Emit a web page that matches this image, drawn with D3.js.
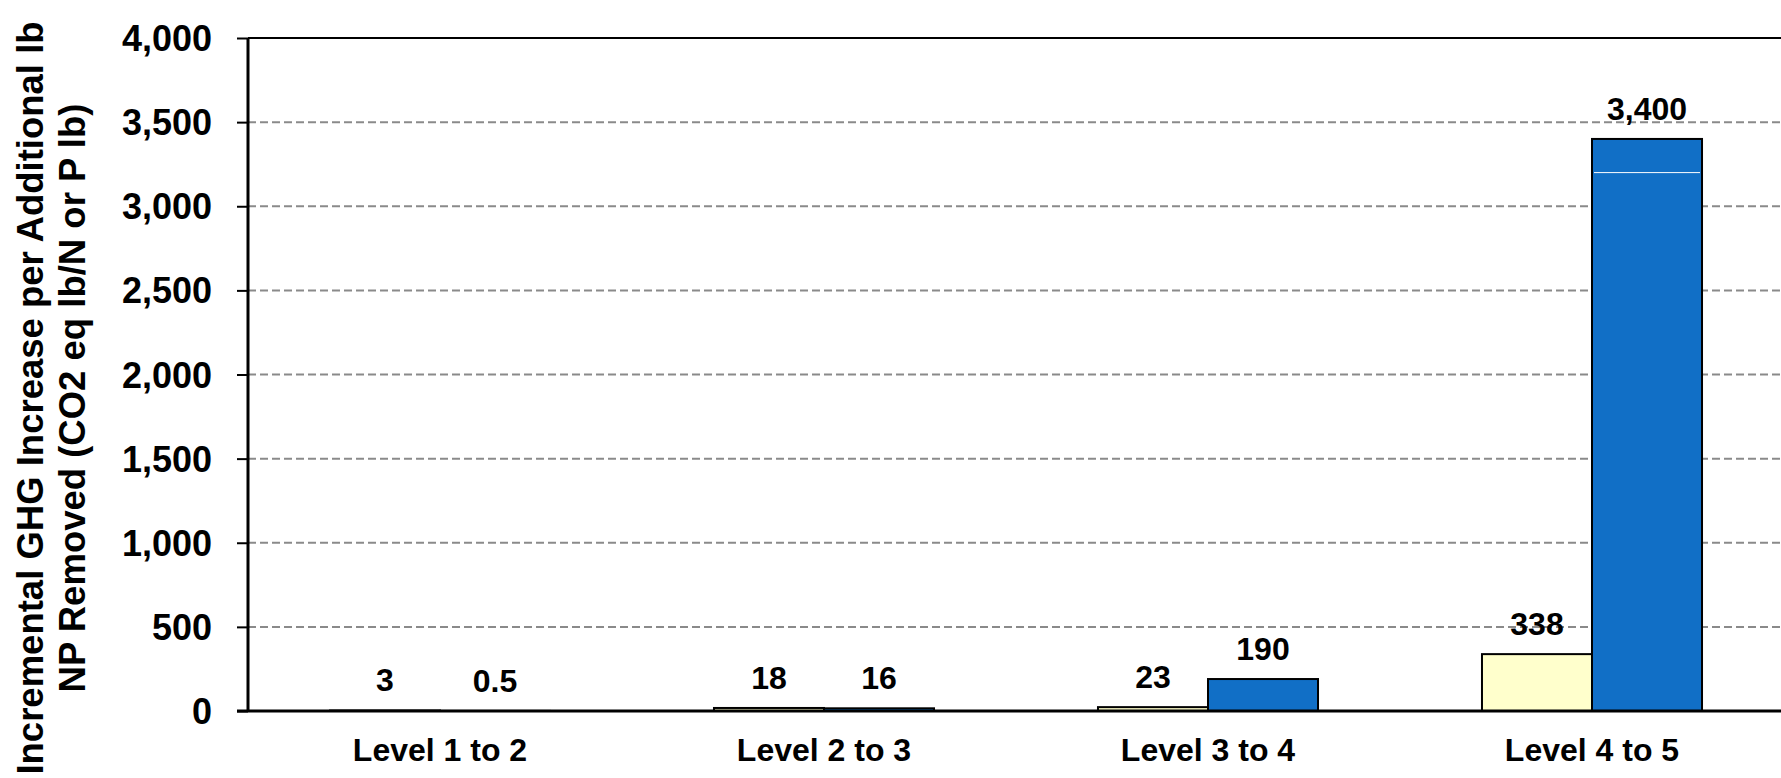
<!DOCTYPE html>
<html>
<head>
<meta charset="utf-8">
<script src="https://cdn.jsdelivr.net/npm/d3@7"></script>
<style>
  html, body { margin: 0; padding: 0; background: #fff; }
  svg { display: block; font-family: "Liberation Sans", Arial, sans-serif; font-weight: bold; }
</style>
</head>
<body>
<svg id="chart" width="1781" height="778"></svg>
<script>
// Incremental GHG per additional lb of nutrient removed, by treatment level step
const categories = ["Level 1 to 2", "Level 2 to 3", "Level 3 to 4", "Level 4 to 5"];
const seriesNames = ["N", "P"];
const nValues = [3, 18, 23, 338];
const pValues = [0.5, 16, 190, 3400];
const valueLabels = [["3", "0.5"], ["18", "16"], ["23", "190"], ["338", "3,400"]];
const yTicks = [0, 500, 1000, 1500, 2000, 2500, 3000, 3500, 4000];
const titleLines = ["Incremental GHG Increase per Additional lb", "NP Removed (CO2 eq lb/N or P lb)"];
const seriesColors = ["#FFFFCC", "#116FC6"];

const svg = d3.select("#chart");
const W = 1781, H = 778;
const plot = { left: 248, right: 1784, top: 38, bottom: 711 };
const FONT = "'Liberation Sans', Arial, sans-serif";

const x = d3.scaleBand()
  .domain(categories)
  .range([plot.left, plot.right])
  .paddingInner(0.427)
  .paddingOuter(0.2135);

const xs = d3.scaleBand()
  .domain(seriesNames)
  .range([0, x.bandwidth()]);

const y = d3.scaleLinear().domain([0, 4000]).range([plot.bottom, plot.top]);

const rows = categories.map((c, i) => ({
  cat: c,
  vals: [nValues[i], pValues[i]].map((v, j) => ({ s: seriesNames[j], v, label: valueLabels[i][j], color: seriesColors[j] }))
}));

// dashed horizontal gridlines
svg.append("g")
  .selectAll("line")
  .data(yTicks.filter(t => t > 0 && t < 4000))
  .join("line")
  .attr("x1", plot.left).attr("x2", W)
  .attr("y1", d => y(d)).attr("y2", d => y(d))
  .attr("stroke", "#8a8a8a")
  .attr("stroke-width", 2)
  .attr("stroke-dasharray", "8,4");

// top border of the plot area
svg.append("line")
  .attr("x1", plot.left).attr("x2", W)
  .attr("y1", y(4000)).attr("y2", y(4000))
  .attr("stroke", "#000").attr("stroke-width", 2);

// bars
const groups = svg.append("g")
  .selectAll("g")
  .data(rows)
  .join("g")
  .attr("transform", d => `translate(${x(d.cat)},0)`);

groups.selectAll("rect")
  .data(d => d.vals)
  .join("rect")
  .attr("x", d => xs(d.s))
  .attr("width", xs.bandwidth())
  .attr("y", d => y(d.v))
  .attr("height", d => y(0) - y(d.v))
  .attr("fill", d => d.color)
  .attr("stroke", "#000")
  .attr("stroke-width", 2);

// thin highlight line across the tallest bar
const tallest = rows[3].vals[1];
svg.append("line")
  .attr("x1", x(rows[3].cat) + xs(tallest.s) + 2)
  .attr("x2", x(rows[3].cat) + xs(tallest.s) + xs.bandwidth() - 2)
  .attr("y1", y(3200)).attr("y2", y(3200))
  .attr("stroke", "#fff").attr("stroke-width", 1);

// value labels above bars
groups.selectAll("text.val")
  .data(d => d.vals)
  .join("text")
  .attr("class", "val")
  .attr("x", d => xs(d.s) + xs.bandwidth() / 2)
  .attr("y", d => y(d.v) - 19)
  .attr("text-anchor", "middle")
  .attr("font-size", 32)
  .attr("fill", "#000")
  .text(d => d.label);

// y axis
const yAxis = svg.append("g")
  .attr("transform", `translate(${plot.left},0)`)
  .call(d3.axisLeft(y).tickValues(yTicks).tickFormat(d3.format(",")).tickSize(11).tickPadding(25));
yAxis.select(".domain").attr("stroke", "#000").attr("stroke-width", 3)
  .attr("d", `M0,${plot.top}V${plot.bottom}`);
yAxis.selectAll(".tick line").attr("stroke", "#000").attr("stroke-width", 2);
yAxis.selectAll(".tick text")
  .attr("font-size", 36).attr("font-family", FONT)
  .attr("font-weight", "bold").attr("fill", "#000").attr("dy", "0.35em");

// x axis
const xAxis = svg.append("g")
  .attr("transform", `translate(0,${plot.bottom})`)
  .call(d3.axisBottom(x).tickSize(0).tickPadding(27));
xAxis.select(".domain").attr("stroke", "#000").attr("stroke-width", 3)
  .attr("d", `M${plot.left - 11},0H${W}`);
xAxis.selectAll(".tick text")
  .attr("font-size", 32).attr("font-family", FONT)
  .attr("font-weight", "bold").attr("fill", "#000");

// rotated two-line y axis title
const title = svg.append("text")
  .attr("transform", `translate(43,398) rotate(-90)`)
  .attr("text-anchor", "middle")
  .attr("font-size", 36.5)
  .attr("fill", "#000");
title.selectAll("tspan")
  .data(titleLines)
  .join("tspan")
  .attr("x", 0)
  .attr("y", (d, i) => i * 42)
  .text(d => d);
</script>
</body>
</html>
